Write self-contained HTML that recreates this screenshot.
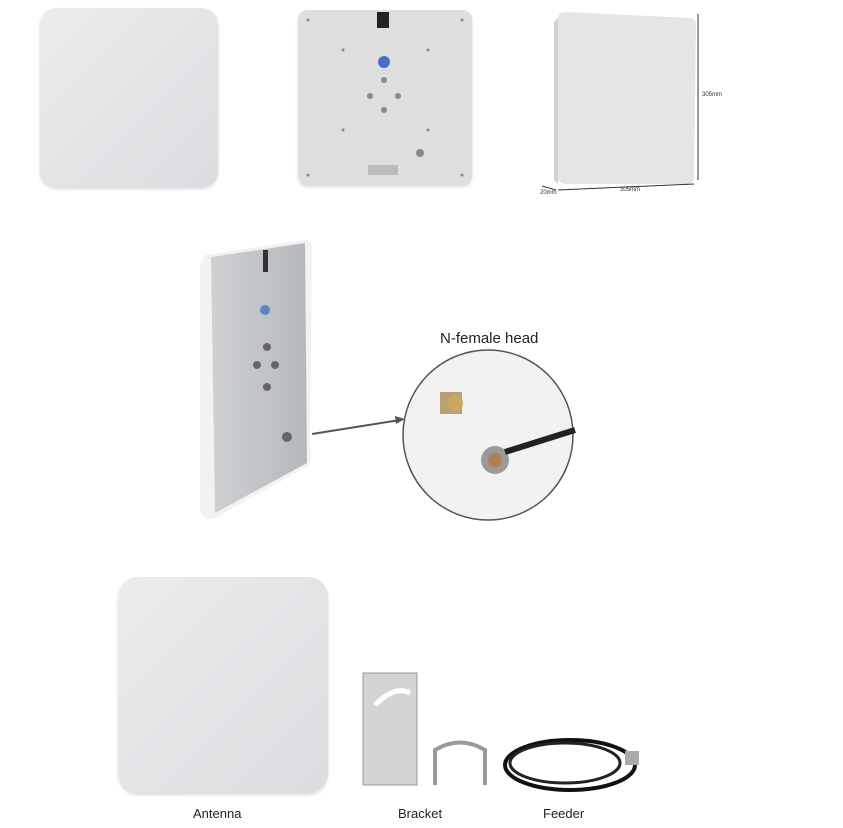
<!DOCTYPE html>
<html><head><meta charset="utf-8"><style>
body{margin:0;width:843px;height:828px;background:#fff;position:relative;overflow:hidden;font-family:"Liberation Sans",sans-serif}
.a{position:absolute}
.panel{position:absolute;border-radius:16px;background:linear-gradient(135deg,#ececee,#dcdce0);box-shadow:0 2px 3px rgba(0,0,0,.15)}
.lbl{position:absolute;font-size:13px;color:#222}
</style></head><body>
<div class="panel" style="left:40px;top:8px;width:178px;height:179px"></div>
<div class="panel" style="left:298px;top:10px;width:174px;height:175px;border-radius:10px;background:#dedee0"></div>
<svg class="a" style="left:298px;top:10px" width="174" height="175">
<rect x="79" y="2" width="12" height="16" fill="#222"/>
<circle cx="86" cy="52" r="6" fill="#4a6fc4"/>
<g fill="#888"><circle cx="86" cy="70" r="3"/><circle cx="72" cy="86" r="3"/><circle cx="100" cy="86" r="3"/><circle cx="86" cy="100" r="3"/><circle cx="122" cy="143" r="4"/>
<circle cx="10" cy="10" r="1.5"/><circle cx="164" cy="10" r="1.5"/><circle cx="10" cy="165" r="1.5"/><circle cx="164" cy="165" r="1.5"/><circle cx="45" cy="40" r="1.5"/><circle cx="130" cy="40" r="1.5"/><circle cx="45" cy="120" r="1.5"/><circle cx="130" cy="120" r="1.5"/></g>
<rect x="70" y="155" width="30" height="10" fill="#bbb"/>
</svg>
<svg class="a" style="left:530px;top:8px" width="200" height="190">
<path d="M28 10 Q28 4 36 4 L160 10 Q166 10 166 18 L164 170 Q164 176 156 176 L36 176 Q28 176 28 168 Z" fill="#e6e4e6"/>
<path d="M28 10 L24 14 L24 172 L28 176 Z" fill="#d0d0d2"/>
<line x1="168" y1="6" x2="168" y2="172" stroke="#333"/>
<line x1="28" y1="182" x2="164" y2="176" stroke="#333"/>
<line x1="12" y1="178" x2="26" y2="182" stroke="#333"/>
<text x="172" y="88" font-size="6" fill="#333">305mm</text>
<text x="90" y="183" font-size="6" fill="#333">305mm</text>
<text x="10" y="186" font-size="6" fill="#333">20mm</text>
</svg>
<svg class="a" style="left:195px;top:235px" width="130" height="290">
<defs><linearGradient id="s" x1="0" x2="1"><stop offset="0" stop-color="#cfd1d3"/><stop offset="1" stop-color="#b5b8bb"/></linearGradient></defs>
<path d="M10 20 L110 5 Q117 5 117 12 L115 230 L20 283 Q6 286 5 272 L5 30 Z" fill="#f2f2f2"/>
<path d="M16 22 L110 8 L112 228 L20 278 Z" fill="url(#s)"/>
<rect x="68" y="15" width="5" height="22" fill="#333"/>
<circle cx="70" cy="75" r="5" fill="#5a85c8"/>
<g fill="#666"><circle cx="72" cy="112" r="4"/><circle cx="62" cy="130" r="4"/><circle cx="80" cy="130" r="4"/><circle cx="72" cy="152" r="4"/><circle cx="92" cy="202" r="5"/></g>
</svg>
<line/>
<svg class="a" style="left:300px;top:320px" width="290" height="210">
<line x1="12" y1="114" x2="100" y2="100" stroke="#555" stroke-width="2"/>
<polygon points="105,99 95,96 96,104" fill="#555"/>
<circle cx="188" cy="115" r="85" fill="#f2f2f2" stroke="#555" stroke-width="1.5"/>
<rect x="140" y="72" width="22" height="22" fill="#b8a070"/>
<circle cx="155" cy="83" r="8" fill="#c8a860"/>
<circle cx="195" cy="140" r="14" fill="#9a9a9a"/><circle cx="195" cy="140" r="7" fill="#b08050"/>
<path d="M205 132 L275 110" stroke="#222" stroke-width="6"/>
<text x="140" y="23" font-size="15" fill="#222">N-female head</text>
</svg>
<div class="panel" style="left:118px;top:577px;width:210px;height:216px;border-radius:20px"></div>
<svg class="a" style="left:355px;top:665px" width="300" height="130">
<path d="M8 8 L62 8 L62 120 L8 120 Z" fill="#d4d4d6" stroke="#999"/>
<path d="M20 40 Q40 20 55 28" stroke="#fff" stroke-width="5" fill="none"/>
<path d="M80 120 L80 85 Q105 70 130 85 L130 120" stroke="#999" stroke-width="4" fill="none"/>
<ellipse cx="215" cy="100" rx="65" ry="25" fill="none" stroke="#111" stroke-width="4"/>
<ellipse cx="210" cy="98" rx="55" ry="20" fill="none" stroke="#222" stroke-width="3"/>
<rect x="270" y="86" width="14" height="14" fill="#aaa"/>
</svg>
<div class="lbl" style="left:193px;top:806px">Antenna</div>
<div class="lbl" style="left:398px;top:806px">Bracket</div>
<div class="lbl" style="left:543px;top:806px">Feeder</div>
</body></html>
